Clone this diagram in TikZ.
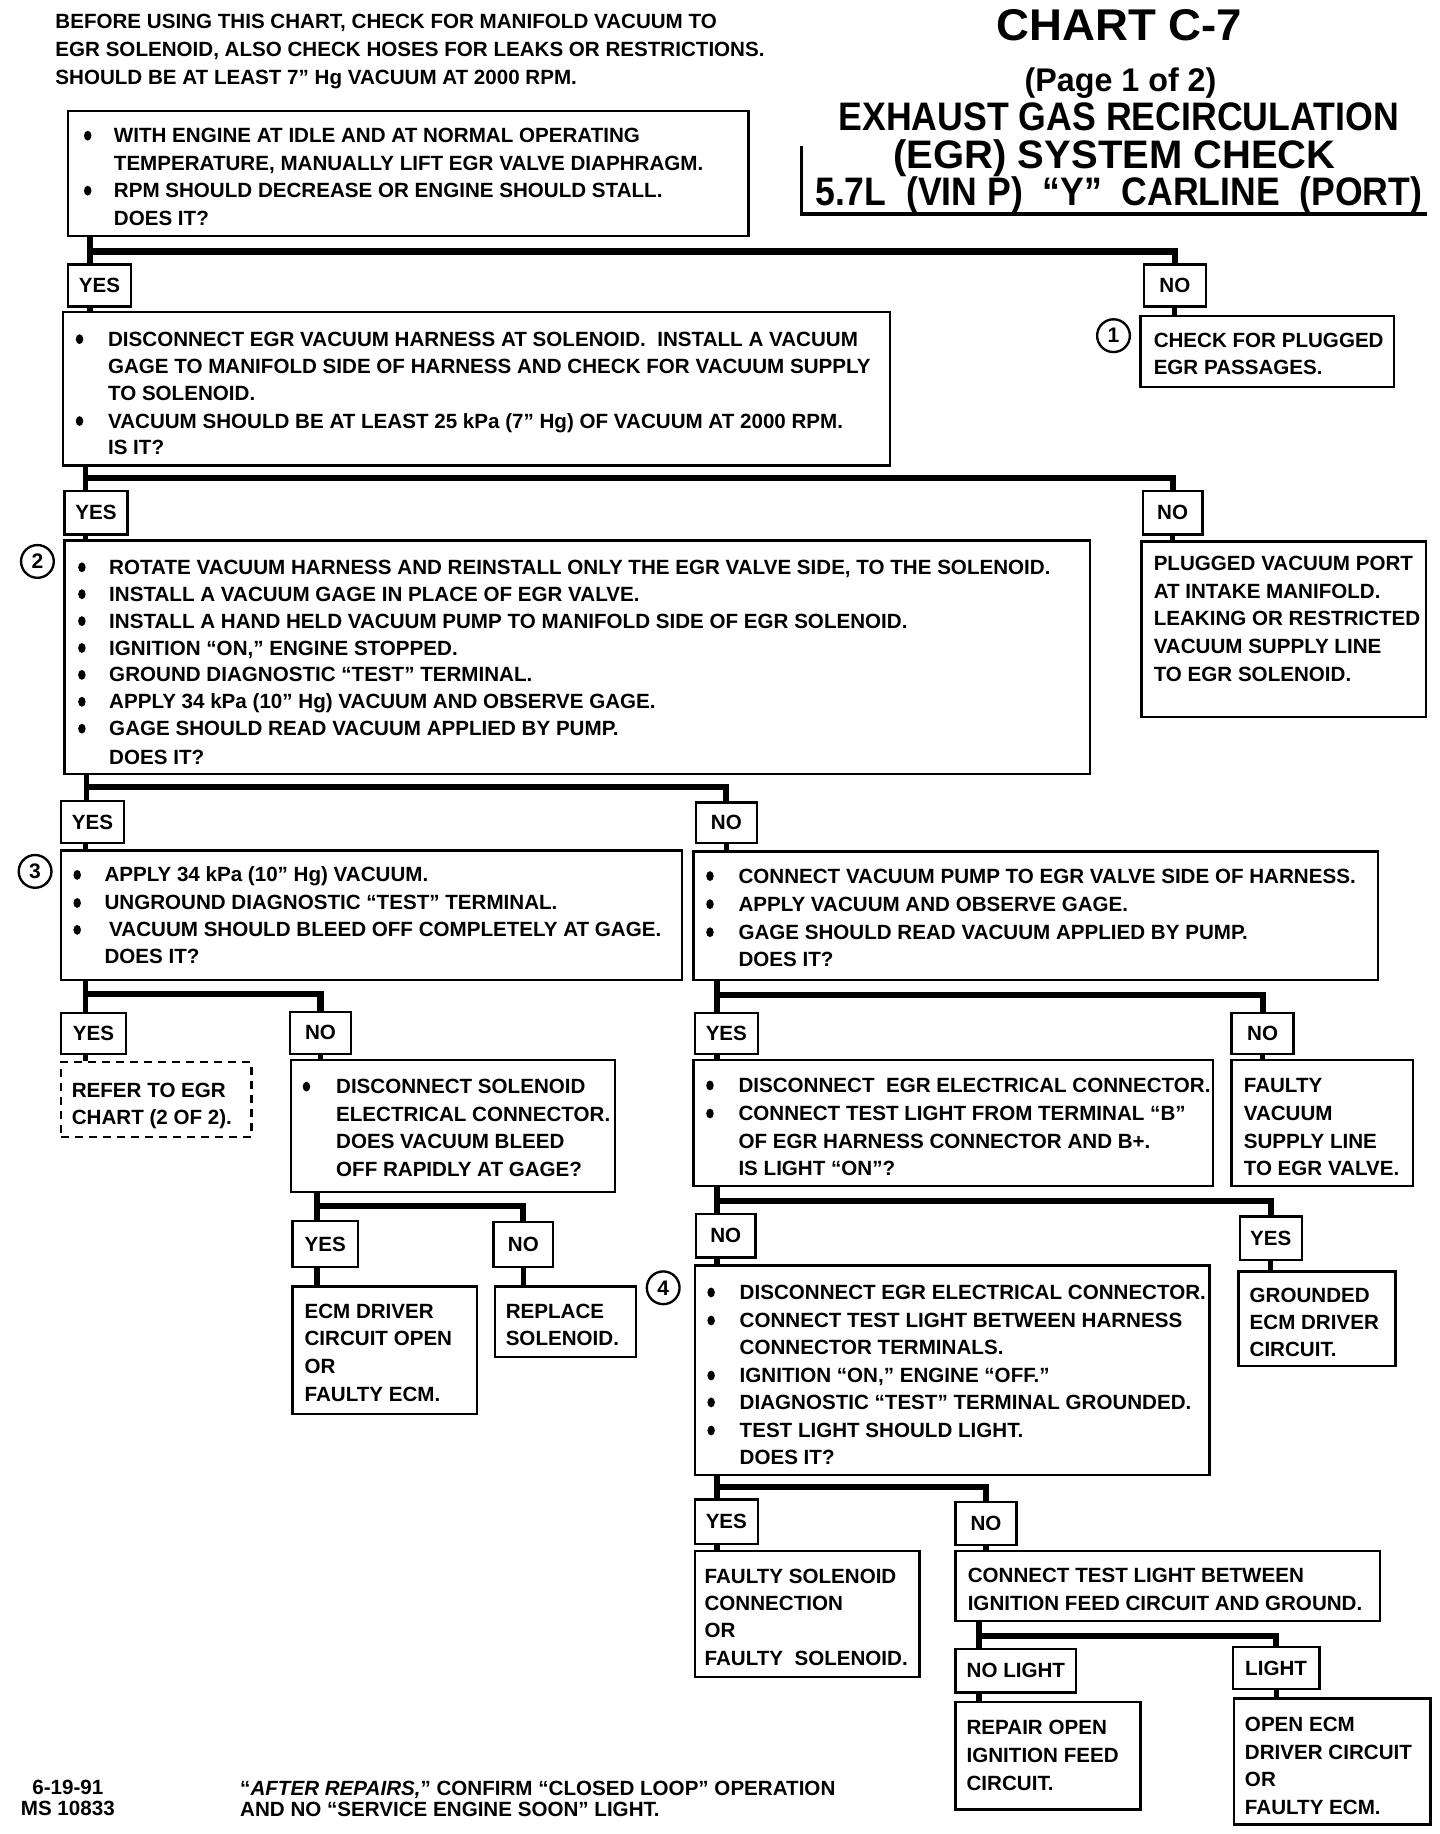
\documentclass[tikz,border=0pt]{standalone}
\usepackage{fontspec}
\setmainfont{Liberation Sans}
\usepackage{graphicx}
\usetikzlibrary{fit,calc}
\newcommand\bodyfont{\fontsize{8.8}{10}\selectfont\bfseries}
\newcommand\fw[2]{\sbox0{#2}\scalebox{\fpeval{#1/(\the\wd0)}}[1]{\usebox0}}
\newcounter{tln}
\newcommand\TL[3]{\stepcounter{tln}\node[txt] (tl\arabic{tln}) at (#1,{#2+6}) {#3};}
\newcommand\BL[4]{\fill (#1,#2) ellipse [x radius=1.6pt, y radius=2.1pt]; \TL{#3}{#2}{#4}}
\newcommand\BX[6][box]{\node[#1, fit={(#3,#4) (#5,#6)}] (#2) {};}
\newcommand\LB[6]{\node[box, fit={(#2,#3) (#4,#5)}, label={[lbltxt, name=#1t]center:#6}] (#1) {};}
% branch: parent, xoff, left label, right label, yoff of bar
\newcommand\branch[5]{%
  \draw[stub] ($(#1.south west)+(#2,0)$) coordinate (tmp#1) -- (tmp#1 |- #3.north);
  \draw[bar] ($(#1.south west)+(#2,#5)$) -| (#4.north);}
% link: from label (west offset) down to box
\newcommand\linkw[3]{\draw[stub] ($(#1.south west)+(#3,0)$) coordinate (tmp#1) -- (tmp#1 |- #2.north);}
\newcommand\linkc[2]{\draw[stub] (#1.south) -- (#1.south |- #2.north);}
\tikzset{
  box/.style={draw, line width=1pt, inner sep=0pt},
  dbox/.style={draw, line width=1pt, inner sep=0pt, dash pattern=on 3.5pt off 2.5pt},
  lbltxt/.style={inner sep=0pt, font=\bodyfont},
  txt/.style={inner sep=0pt, anchor=base west, font=\bodyfont},
  bar/.style={line width=2.6pt},
  stub/.style={line width=2.2pt},
  circ/.style={circle, draw, line width=1pt, minimum size=14pt, inner sep=0pt, font=\fontsize{9}{9}\selectfont\bfseries},
  ttl/.style={inner sep=0pt, anchor=base, font=\fontsize{17}{18}\selectfont\bfseries},
}
\begin{document}
\begin{tikzpicture}[x=0.5pt, y=-0.5pt]
\useasboundingbox (0,0) rectangle (1231,1568);
\fill[white] (0,0) rectangle (1231,1568);

% header note
\TL{47}{18}{BEFORE USING THIS CHART, CHECK FOR MANIFOLD VACUUM TO}
\TL{47}{42}{EGR SOLENOID, ALSO CHECK HOSES FOR LEAKS OR RESTRICTIONS.}
\TL{47}{66}{SHOULD BE AT LEAST 7” Hg VACUUM AT 2000 RPM.}

% title
\node[ttl, font=\fontsize{19}{20}\selectfont\bfseries] (ti1) at (957,35) {\fw{105pt}{CHART C-7}};
\node[ttl, font=\fontsize{14}{15}\selectfont\bfseries] (ti2) at (958,78) {\fw{82pt}{(Page 1 of 2)}};
\node[ttl] (ti3) at (956.5,112) {\fw{239.5pt}{EXHAUST GAS RECIRCULATION}};
\node[ttl] (ti4) at (953,144) {\fw{189pt}{(EGR) SYSTEM CHECK}};
\node[ttl] (ti5) at (956.5,176) {\fw{259.5pt}{5.7L\ \ (VIN P)\ \ “Y”\ \ CARLINE\ \ (PORT)}};
\draw[line width=1.4pt] (685,125) -- (685,183) -- (1220,183);

% ---- boxes ----
\BX{A}{58}{95}{640}{202}
\BL{75}{116}{97}{WITH ENGINE AT IDLE AND AT NORMAL OPERATING}
\TL{97}{140}{TEMPERATURE, MANUALLY LIFT EGR VALVE DIAPHRAGM.}
\BL{75}{163}{97}{RPM SHOULD DECREASE OR ENGINE SHOULD STALL.}
\TL{97}{187}{DOES IT?}

\LB{Y1}{58}{226}{112}{262}{YES}
\LB{N1}{978}{226}{1031}{262}{NO}

\BX{B}{54}{267}{761}{398}
\BL{68}{290}{92}{DISCONNECT EGR VACUUM HARNESS AT SOLENOID.\ \ INSTALL A VACUUM}
\TL{92}{313}{GAGE TO MANIFOLD SIDE OF HARNESS AND CHECK FOR VACUUM SUPPLY}
\TL{92}{336}{TO SOLENOID.}
\BL{68}{360}{92}{VACUUM SHOULD BE AT LEAST 25 kPa (7” Hg) OF VACUUM AT 2000 RPM.}
\TL{92}{383}{IS IT?}

\node[circ] (c1) at (952,287) {1};
\BX{B1}{975}{270}{1192}{331}
\TL{986}{291}{CHECK FOR PLUGGED}
\TL{986}{314}{EGR PASSAGES.}

\LB{Y2}{55}{420}{109}{457}{YES}
\LB{N2}{977}{420}{1028}{457}{NO}

\node[circ] (c2) at (32,480) {2};
\BX{C}{55}{462}{932}{662}
\BL{70}{485}{93}{ROTATE VACUUM HARNESS AND REINSTALL ONLY THE EGR VALVE SIDE, TO THE SOLENOID.}
\BL{70}{508}{93}{INSTALL A VACUUM GAGE IN PLACE OF EGR VALVE.}
\BL{70}{531}{93}{INSTALL A HAND HELD VACUUM PUMP TO MANIFOLD SIDE OF EGR SOLENOID.}
\BL{70}{554}{93}{IGNITION “ON,” ENGINE STOPPED.}
\BL{70}{577}{93}{GROUND DIAGNOSTIC “TEST” TERMINAL.}
\BL{70}{600}{93}{APPLY 34 kPa (10” Hg) VACUUM AND OBSERVE GAGE.}
\BL{70}{623}{93}{GAGE SHOULD READ VACUUM APPLIED BY PUMP.}
\TL{93}{648}{DOES IT?}

\BX{C1}{976}{463}{1219}{613}
\TL{986}{482}{PLUGGED VACUUM PORT}
\TL{986}{506}{AT INTAKE MANIFOLD.}
\TL{986}{529}{LEAKING OR RESTRICTED}
\TL{986}{553}{VACUUM SUPPLY LINE}
\TL{986}{577}{TO EGR SOLENOID.}

\LB{Y3}{52}{685}{106}{721}{YES}
\LB{N3}{595}{686}{647}{721}{NO}

\node[circ] (c3) at (30,745) {3};
\BX{D}{52}{727}{583}{838}
\BL{66}{748}{89}{APPLY 34 kPa (10” Hg) VACUUM.}
\BL{66}{772}{89}{UNGROUND DIAGNOSTIC “TEST” TERMINAL.}
\BL{66}{795}{93}{VACUUM SHOULD BLEED OFF COMPLETELY AT GAGE.}
\TL{89}{818}{DOES IT?}

\BX{E}{593}{728}{1178}{838}
\BL{607}{749}{631}{CONNECT VACUUM PUMP TO EGR VALVE SIDE OF HARNESS.}
\BL{607}{773}{631}{APPLY VACUUM AND OBSERVE GAGE.}
\BL{607}{797}{631}{GAGE SHOULD READ VACUUM APPLIED BY PUMP.}
\TL{631}{820}{DOES IT?}

\LB{Y4}{52}{866}{108}{901}{YES}
\LB{N4}{248}{865}{300}{901}{NO}

\BX[dbox]{D1}{52}{908}{215}{972}
\TL{61}{932}{REFER TO EGR}
\TL{61}{955}{CHART (2 OF 2).}

\BX{F}{249}{906}{526}{1019}
\BL{262}{929}{287}{DISCONNECT SOLENOID}
\TL{287}{953}{ELECTRICAL CONNECTOR.}
\TL{287}{976}{DOES VACUUM BLEED}
\TL{287}{1000}{OFF RAPIDLY AT GAGE?}

\LB{Y5}{250}{1044}{306}{1083}{YES}
\LB{N5}{422}{1045}{473}{1083}{NO}

\BX{F1}{250}{1100}{408}{1209}
\TL{260}{1121}{ECM DRIVER}
\TL{260}{1144}{CIRCUIT OPEN}
\TL{260}{1168}{OR}
\TL{260}{1192}{FAULTY ECM.}

\BX{F2}{423}{1100}{544}{1160}
\TL{432}{1121}{REPLACE}
\TL{432}{1144}{SOLENOID.}

\LB{Y6}{594}{866}{648}{901}{YES}
\LB{N6}{1053}{866}{1106}{901}{NO}

\BX{G}{593}{906}{1037}{1014}
\BL{607}{928}{631}{DISCONNECT\ \ EGR ELECTRICAL CONNECTOR.}
\BL{607}{952}{631}{CONNECT TEST LIGHT FROM TERMINAL “B”}
\TL{631}{976}{OF EGR HARNESS CONNECTOR AND B+.}
\TL{631}{999}{IS LIGHT “ON”?}

\BX{G1}{1053}{906}{1208}{1014}
\TL{1063}{928}{FAULTY}
\TL{1063}{952}{VACUUM}
\TL{1063}{976}{SUPPLY LINE}
\TL{1063}{999}{TO EGR VALVE.}

\LB{N7}{595}{1038}{646}{1075}{NO}
\LB{Y7}{1060}{1040}{1113}{1077}{YES}

\node[circ] (c4) at (567,1101) {4};
\BX{H}{594}{1082}{1034}{1261}
\BL{608}{1105}{632}{DISCONNECT EGR ELECTRICAL CONNECTOR.}
\BL{608}{1129}{632}{CONNECT TEST LIGHT BETWEEN HARNESS}
\TL{632}{1152}{CONNECTOR TERMINALS.}
\BL{608}{1176}{632}{IGNITION “ON,” ENGINE “OFF.”}
\BL{608}{1199}{632}{DIAGNOSTIC “TEST” TERMINAL GROUNDED.}
\BL{608}{1223}{632}{TEST LIGHT SHOULD LIGHT.}
\TL{632}{1246}{DOES IT?}

\BX{H1}{1059}{1087}{1193}{1168}
\TL{1068}{1108}{GROUNDED}
\TL{1068}{1131}{ECM DRIVER}
\TL{1068}{1154}{CIRCUIT.}

\LB{Y8}{594}{1282}{648}{1320}{YES}
\LB{N8}{817}{1284}{869}{1321}{NO}

\BX{H2}{594}{1326}{786}{1434}
\TL{602}{1348}{FAULTY SOLENOID}
\TL{602}{1371}{CONNECTION}
\TL{602}{1394}{OR}
\TL{602}{1418}{FAULTY\ \ SOLENOID.}

\BX{I}{817}{1326}{1180}{1386}
\TL{827}{1347}{CONNECT TEST LIGHT BETWEEN}
\TL{827}{1371}{IGNITION FEED CIRCUIT AND GROUND.}

\LB{NL}{817}{1410}{920}{1447}{NO LIGHT}
\LB{LT}{1054}{1408}{1128}{1444}{LIGHT}

\BX{J1}{817}{1455}{975}{1547}
\TL{826}{1477}{REPAIR OPEN}
\TL{826}{1501}{IGNITION FEED}
\TL{826}{1525}{CIRCUIT.}

\BX{J2}{1055}{1452}{1223}{1560}
\TL{1064}{1474}{OPEN ECM}
\TL{1064}{1498}{DRIVER CIRCUIT}
\TL{1064}{1521}{OR}
\TL{1064}{1545}{FAULTY ECM.}

% ---- connectors ----
\branch{A}{20}{Y1}{N1}{12}
\linkw{Y1}{B}{20}
\linkc{N1}{B1}
\branch{B}{20}{Y2}{N2}{10}
\linkw{Y2}{C}{19}
\linkc{N2}{C1}
\branch{C}{20}{Y3}{N3}{10}
\linkw{Y3}{D}{22}
\linkc{N3}{E}
\branch{D}{22}{Y4}{N4}{11}
\linkw{Y4}{D1}{22}
\linkc{N4}{F}
\branch{F}{23}{Y5}{N5}{11}
\linkw{Y5}{F1}{22}
\linkc{N5}{F2}
\branch{E}{21}{Y6}{N6}{12}
\linkw{Y6}{G}{20}
\linkc{N6}{G1}
\branch{G}{21}{N7}{Y7}{12}
\linkw{N7}{H}{19}
\linkc{Y7}{H1}
\branch{H}{20}{Y8}{N8}{9}
\linkw{Y8}{H2}{20}
\linkc{N8}{I}
\branch{I}{21}{NL}{LT}{12}
\linkw{NL}{J1}{21}
\linkc{LT}{J2}

% footer
\node[txt, anchor=base] (ft1) at (58,1534) {6-19-91};
\node[txt, anchor=base] (ft2) at (58,1552) {MS 10833};
\TL{205}{1529}{“\textit{AFTER REPAIRS,}” CONFIRM “CLOSED LOOP” OPERATION}
\TL{205}{1547}{AND NO “SERVICE ENGINE SOON” LIGHT.}
\end{tikzpicture}
\end{document}
